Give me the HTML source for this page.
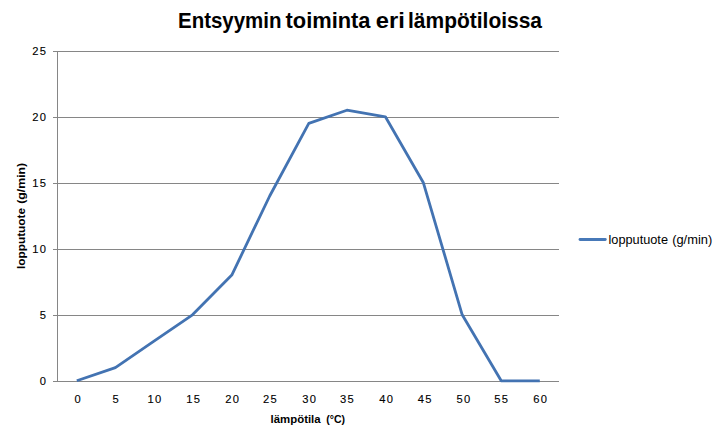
<!DOCTYPE html>
<html><head><meta charset="utf-8">
<style>
html,body{margin:0;padding:0;background:#fff;}
body{width:718px;height:434px;overflow:hidden;}
svg{display:block;}
text{font-family:"Liberation Sans",sans-serif;fill:#000;}
</style></head><body>
<svg width="718" height="434" viewBox="0 0 718 434">
<rect width="718" height="434" fill="#fff"/>
<!-- title -->
<g font-size="22" font-weight="bold">
<text x="178" y="28" textLength="103.5" lengthAdjust="spacingAndGlyphs">Entsyymin</text>
<text x="285.5" y="28" textLength="85" lengthAdjust="spacingAndGlyphs">toiminta</text>
<text x="375.8" y="28" textLength="29" lengthAdjust="spacingAndGlyphs">eri</text>
<text x="408" y="28" textLength="134" lengthAdjust="spacingAndGlyphs">lämpötiloissa</text>
</g>
<!-- gridlines -->
<g stroke="#868686" stroke-width="1" shape-rendering="crispEdges">
<line x1="53" y1="51.5" x2="559" y2="51.5"/>
<line x1="53" y1="117.5" x2="559" y2="117.5"/>
<line x1="53" y1="183.5" x2="559" y2="183.5"/>
<line x1="53" y1="249.5" x2="559" y2="249.5"/>
<line x1="53" y1="315.5" x2="559" y2="315.5"/>
<line x1="53" y1="381.5" x2="559" y2="381.5"/>
<line x1="57.5" y1="51" x2="57.5" y2="382"/>
</g>
<!-- y labels -->
<g font-size="11.2" text-anchor="end" letter-spacing="1.3" stroke="#000" stroke-width="0.12">
<text x="47.30" y="55">25</text>
<text x="47.30" y="121">20</text>
<text x="47.30" y="187">15</text>
<text x="47.30" y="253">10</text>
<text x="47.30" y="319">5</text>
<text x="47.30" y="385">0</text>
</g>
<!-- x labels -->
<g font-size="11.2" text-anchor="middle" letter-spacing="1.3" stroke="#000" stroke-width="0.12">
<text x="78.15" y="403">0</text>
<text x="116.15" y="403">5</text>
<text x="154.95" y="403">10</text>
<text x="193.65" y="403">15</text>
<text x="232.65" y="403">20</text>
<text x="270.45" y="403">25</text>
<text x="309.75" y="403">30</text>
<text x="347.55" y="403">35</text>
<text x="386.65" y="403">40</text>
<text x="425.15" y="403">45</text>
<text x="463.95" y="403">50</text>
<text x="501.75" y="403">55</text>
<text x="540.85" y="403">60</text>
</g>
<!-- axis titles -->
<g font-size="11.5" font-weight="bold">
<text x="270.6" y="422.8" textLength="50" lengthAdjust="spacingAndGlyphs">lämpötila</text>
<text x="326.3" y="422.8" textLength="18.8" lengthAdjust="spacingAndGlyphs">(°C)</text>
<text transform="translate(25,269) rotate(-90)" textLength="61" lengthAdjust="spacingAndGlyphs">lopputuote</text>
<text transform="translate(25,203.8) rotate(-90)" textLength="41" lengthAdjust="spacingAndGlyphs">(g/min)</text>
</g>
<!-- data line -->
<polyline fill="none" stroke="#4373B2" stroke-width="2.8" stroke-linejoin="round" stroke-linecap="butt" points="76.8,380.8 115.4,367.6 154.0,341.1 192.5,314.8 231.8,275.1 269.7,196.0 308.8,123.4 346.9,110.2 385.4,116.8 423.4,182.8 462.2,314.8 501.2,380.8 539.8,380.8"/>
<!-- legend -->
<line x1="580" y1="239.5" x2="605.3" y2="239.5" stroke="#4779B8" stroke-width="2.8" stroke-linecap="round"/>
<g font-size="12.3">
<text x="608.5" y="243.8" textLength="59.5" lengthAdjust="spacingAndGlyphs">lopputuote</text>
<text x="672.2" y="243.8" textLength="40" lengthAdjust="spacingAndGlyphs">(g/min)</text>
</g>
</svg>
</body></html>
